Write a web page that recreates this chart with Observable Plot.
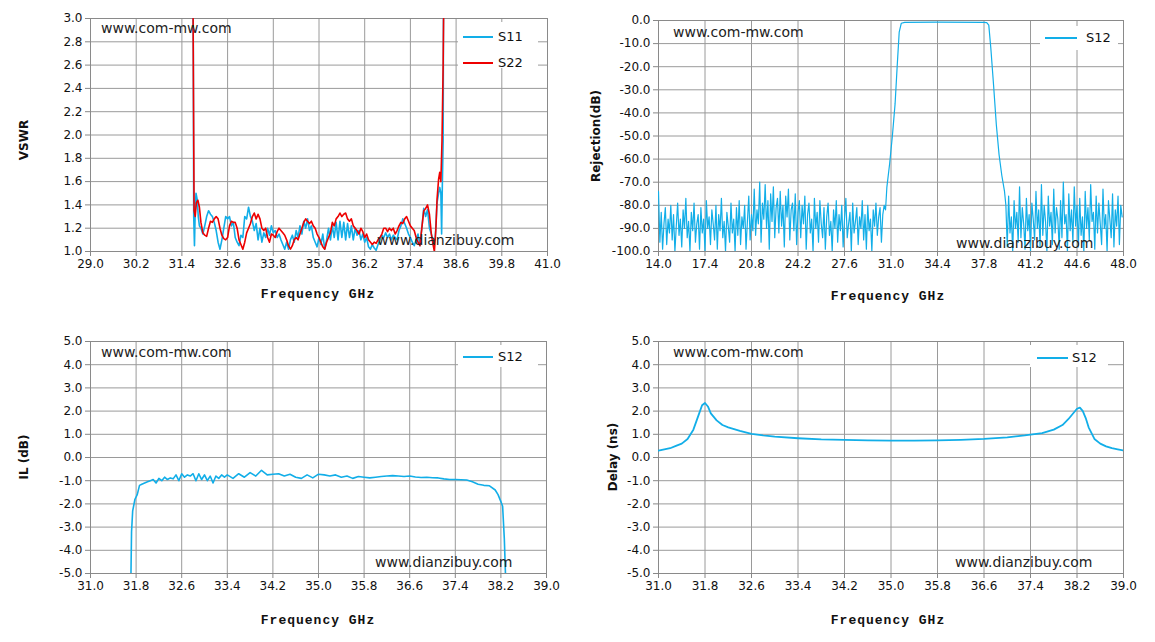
<!DOCTYPE html>
<html><head><meta charset="utf-8">
<script src="https://cdn.jsdelivr.net/npm/d3@7"></script>
<script src="https://cdn.jsdelivr.net/npm/@observablehq/plot@0.6"></script>
<style>
body{margin:0;background:#fff;width:1155px;height:642px;position:relative;overflow:hidden;font-family:"DejaVu Sans",sans-serif}
.p{position:absolute}
.wm{position:absolute;font-family:"DejaVu Sans",sans-serif;font-size:14px;color:#222;white-space:nowrap;line-height:16px}
.xt{position:absolute;font-family:"Liberation Mono",monospace;font-weight:bold;font-size:13px;letter-spacing:1px;color:#111;white-space:nowrap;transform:translateX(-50%)}
.yt{position:absolute;font-family:"DejaVu Sans",sans-serif;font-weight:bold;font-size:12px;color:#111;white-space:nowrap;transform:translate(-50%,-50%) rotate(-90deg)}
.lg{position:absolute;background:#fff}
.ll{position:absolute;height:2px}
.lt{position:absolute;font-family:"DejaVu Sans",sans-serif;font-size:13px;color:#111;line-height:14px}
</style></head><body>
<script>
const BLUE="#12aee8", RED="#ee0000";
// ---- VSWR: [GHz, VSWR] ----
const s22=[[31.69,3.3],[31.70,2.6],[31.72,1.35],[31.75,1.3],[31.78,1.42],[31.82,1.44],[31.86,1.38],[31.9,1.25],[31.95,1.16],[32.0,1.14],[32.05,1.13],[32.1,1.2],[32.15,1.26],[32.2,1.25],[32.25,1.28],[32.3,1.3],[32.35,1.28],[32.4,1.2],[32.45,1.14],[32.5,1.11],[32.55,1.1],[32.6,1.12],[32.65,1.22],[32.7,1.26],[32.75,1.25],[32.8,1.25],[32.85,1.2],[32.9,1.1],[32.95,1.06],[33.0,1.02],[33.05,1.08],[33.1,1.16],[33.15,1.2],[33.2,1.24],[33.25,1.3],[33.3,1.33],[33.35,1.28],[33.4,1.32],[33.45,1.28],[33.5,1.2],[33.55,1.18],[33.6,1.2],[33.65,1.12],[33.7,1.08],[33.75,1.15],[33.8,1.14],[33.85,1.12],[33.9,1.17],[33.95,1.2],[34.0,1.18],[34.05,1.16],[34.1,1.14],[34.15,1.1],[34.2,1.05],[34.25,1.02],[34.3,1.05],[34.35,1.1],[34.4,1.12],[34.45,1.1],[34.5,1.15],[34.55,1.2],[34.6,1.25],[34.65,1.28],[34.7,1.26],[34.75,1.24],[34.8,1.26],[34.85,1.22],[34.9,1.2],[34.95,1.15],[35.0,1.12],[35.05,1.08],[35.1,1.04],[35.15,1.02],[35.2,1.08],[35.25,1.12],[35.3,1.16],[35.35,1.25],[35.4,1.22],[35.45,1.28],[35.5,1.3],[35.55,1.33],[35.6,1.3],[35.65,1.32],[35.7,1.33],[35.75,1.28],[35.8,1.26],[35.85,1.28],[35.9,1.22],[35.95,1.2],[36.0,1.18],[36.05,1.15],[36.1,1.2],[36.15,1.17],[36.2,1.12],[36.25,1.15],[36.3,1.1],[36.4,1.06],[36.45,1.08],[36.5,1.07],[36.55,1.1],[36.6,1.12],[36.65,1.15],[36.7,1.2],[36.75,1.2],[36.8,1.17],[36.85,1.2],[36.9,1.18],[36.95,1.2],[37.0,1.15],[37.05,1.18],[37.1,1.22],[37.15,1.25],[37.2,1.24],[37.25,1.28],[37.3,1.3],[37.35,1.26],[37.4,1.22],[37.45,1.2],[37.5,1.18],[37.55,1.12],[37.6,1.08],[37.65,1.05],[37.7,1.2],[37.75,1.35],[37.8,1.37],[37.85,1.4],[37.9,1.32],[37.95,1.15],[38.0,1.05],[38.03,1.0],[38.07,1.2],[38.1,1.45],[38.14,1.62],[38.17,1.68],[38.2,1.6],[38.23,1.95],[38.26,2.6],[38.28,3.3]];
const s11=[[31.69,3.3],[31.70,2.7],[31.71,1.3],[31.73,1.05],[31.75,1.35],[31.77,1.5],[31.8,1.45],[31.83,1.3],[31.86,1.22],[31.9,1.2],[31.95,1.15],[32.0,1.22],[32.05,1.3],[32.1,1.35],[32.15,1.32],[32.2,1.3],[32.25,1.25],[32.3,1.18],[32.35,1.08],[32.4,1.02],[32.45,1.1],[32.5,1.2],[32.55,1.3],[32.6,1.28],[32.65,1.3],[32.7,1.22],[32.75,1.25],[32.8,1.12],[32.85,1.08],[32.9,1.05],[32.95,1.14],[33.0,1.12],[33.05,1.3],[33.1,1.28],[33.15,1.38],[33.2,1.3],[33.25,1.26],[33.3,1.18],[33.35,1.24],[33.4,1.1],[33.45,1.2],[33.5,1.08],[33.55,1.16],[33.6,1.12],[33.65,1.2],[33.7,1.14],[33.75,1.22],[33.8,1.16],[33.85,1.18],[33.9,1.12],[33.95,1.15],[34.0,1.1],[34.05,1.06],[34.1,1.02],[34.15,1.08],[34.2,1.02],[34.25,1.1],[34.3,1.14],[34.35,1.08],[34.4,1.18],[34.45,1.12],[34.5,1.22],[34.55,1.15],[34.6,1.26],[34.65,1.2],[34.7,1.28],[34.75,1.18],[34.8,1.22],[34.85,1.12],[34.9,1.08],[34.95,1.04],[35.0,1.12],[35.05,1.06],[35.1,1.15],[35.15,1.02],[35.2,1.1],[35.25,1.2],[35.3,1.1],[35.35,1.22],[35.4,1.12],[35.45,1.25],[35.5,1.1],[35.55,1.26],[35.6,1.12],[35.65,1.25],[35.7,1.1],[35.75,1.24],[35.8,1.12],[35.85,1.22],[35.9,1.1],[35.95,1.2],[36.0,1.14],[36.05,1.18],[36.1,1.1],[36.15,1.15],[36.2,1.08],[36.25,1.12],[36.3,1.04],[36.35,1.02],[36.4,1.06],[36.45,1.03],[36.5,1.01],[36.55,1.06],[36.6,1.1],[36.65,1.14],[36.7,1.12],[36.75,1.16],[36.8,1.12],[36.85,1.15],[36.9,1.1],[36.95,1.14],[37.0,1.12],[37.05,1.1],[37.1,1.18],[37.15,1.22],[37.2,1.28],[37.25,1.24],[37.3,1.2],[37.35,1.15],[37.4,1.12],[37.45,1.08],[37.5,1.05],[37.55,1.1],[37.6,1.15],[37.65,1.05],[37.7,1.2],[37.75,1.37],[37.8,1.3],[37.85,1.36],[37.9,1.2],[37.95,1.15],[38.0,1.08],[38.05,1.1],[38.1,1.42],[38.14,1.5],[38.17,1.55],[38.2,1.5],[38.22,1.15],[38.24,1.6],[38.26,1.95],[38.27,3.3]];
// ---- Rejection S12 ----
const rejNoiseStep=0.1;
const rejNoiseLStart=14.0;
const rejNoiseL=[-74,-96,-83,-99,-88,-81,-97,-86,-92,-80,
-95,-84,-100,-89,-79,-93,-86,-98,-82,-90,
-77,-94,-87,-100,-83,-91,-79,-96,-88,-84,
-99,-81,-92,-86,-100,-78,-90,-85,-97,-82,
-88,-95,-80,-99,-84,-91,-77,-94,-87,-100,
-83,-89,-96,-79,-92,-86,-100,-81,-93,-78,
-97,-85,-90,-80,-99,-87,-76,-95,-84,-91,
-73,-93,-82,-88,-70,-96,-79,-86,-71,-90,
-78,-99,-75,-87,-72,-94,-81,-77,-92,-74,
-89,-80,-98,-76,-85,-73,-95,-82,-79,-91,
-75,-97,-83,-78,-94,-80,-88,-76,-99,-84,
-79,-92,-86,-100,-77,-90,-83,-96,-78,-88,
-94,-81,-99,-85,-79,-93,-87,-100,-82,-90,
-78,-96,-84,-91,-80,-98,-86,-77,-94,-88,
-83,-100,-79,-92,-87,-81,-97,-85,-90,-78,
-95,-84,-99,-80,-91,-86,-100,-82,-89,-79,
-93,-85,-81,-96,-84,-80,-82];
const rejPass=[[30.7,-72],[30.9,-62],[31.1,-50],[31.3,-36],[31.45,-20],[31.6,-5],[31.75,-1.2],[32.0,-0.8],[34.4,-0.7],[37.8,-0.8],[38.0,-0.9],[38.15,-2],[38.3,-12],[38.5,-28],[38.7,-45],[38.9,-58],[39.1,-67],[39.3,-74]];
const rejNoiseRStart=39.4;
const rejNoiseR=[-80,-98,-76,-92,-85,-100,-78,-90,-83,-96,
-72,-94,-81,-88,-99,-77,-91,-84,-100,-79,
-86,-95,-74,-90,-82,-98,-71,-93,-80,-87,
-100,-76,-89,-83,-97,-73,-92,-81,-86,-99,
-78,-94,-70,-88,-84,-100,-75,-91,-82,-96,
-72,-89,-80,-98,-77,-93,-85,-100,-74,-90,
-81,-95,-71,-87,-83,-99,-76,-92,-79,-88,
-97,-73,-90,-84,-100,-78,-86,-94,-75,-98,
-82,-89,-76,-97,-80,-85];
// ---- IL S12 ----
const il=[[31.71,-5],[31.72,-3.2],[31.74,-2.3],[31.78,-1.8],[31.82,-1.6],[31.86,-1.2],[31.9,-1.15],[31.95,-1.1],[32.0,-1.05],[32.05,-1.0],[32.1,-0.95],[32.15,-1.1],[32.2,-0.9],[32.25,-1.0],[32.3,-0.85],[32.35,-0.95],[32.4,-0.88],[32.45,-0.92],[32.5,-0.75],[32.55,-1.0],[32.6,-0.7],[32.65,-0.85],[32.7,-0.75],[32.75,-0.8],[32.8,-0.7],[32.85,-1.0],[32.9,-0.7],[32.95,-0.95],[33.0,-0.75],[33.05,-1.0],[33.1,-0.8],[33.15,-1.1],[33.2,-0.8],[33.25,-0.9],[33.3,-0.75],[33.35,-0.85],[33.4,-0.75],[33.5,-0.9],[33.6,-0.7],[33.7,-0.85],[33.8,-0.65],[33.9,-0.8],[34.0,-0.55],[34.1,-0.75],[34.2,-0.72],[34.3,-0.7],[34.4,-0.8],[34.5,-0.72],[34.6,-0.85],[34.7,-0.9],[34.8,-0.75],[34.9,-0.88],[35.0,-0.72],[35.1,-0.75],[35.2,-0.8],[35.3,-0.75],[35.4,-0.85],[35.5,-0.8],[35.6,-0.9],[35.7,-0.82],[35.8,-0.85],[35.9,-0.88],[36.0,-0.85],[36.1,-0.82],[36.2,-0.8],[36.3,-0.78],[36.4,-0.8],[36.5,-0.82],[36.6,-0.8],[36.7,-0.84],[36.8,-0.86],[36.9,-0.85],[37.0,-0.87],[37.1,-0.88],[37.2,-0.92],[37.3,-0.95],[37.4,-0.95],[37.5,-0.96],[37.6,-0.97],[37.7,-1.05],[37.8,-1.15],[37.9,-1.2],[38.0,-1.22],[38.1,-1.4],[38.15,-1.6],[38.2,-1.9],[38.23,-2.1],[38.26,-3.5],[38.28,-5]];
// ---- Delay S12 ----
const delay=[[31.0,0.3],[31.1,0.35],[31.2,0.4],[31.3,0.5],[31.4,0.6],[31.5,0.8],[31.6,1.2],[31.7,1.9],[31.75,2.25],[31.8,2.35],[31.85,2.2],[31.9,1.9],[32.0,1.6],[32.1,1.4],[32.2,1.3],[32.4,1.15],[32.6,1.02],[32.8,0.95],[33.0,0.9],[33.4,0.83],[33.8,0.78],[34.2,0.76],[34.6,0.74],[35.0,0.73],[35.4,0.73],[35.8,0.74],[36.2,0.76],[36.6,0.8],[37.0,0.87],[37.3,0.95],[37.6,1.05],[37.8,1.2],[37.95,1.4],[38.05,1.65],[38.15,1.95],[38.2,2.1],[38.25,2.15],[38.3,2.0],[38.35,1.7],[38.4,1.3],[38.5,0.8],[38.6,0.6],[38.7,0.48],[38.8,0.4],[38.9,0.35],[39.0,0.3]];

const rows=P=>P.map(([f,v])=>({f,v}));
const noiseRows=(start,V)=>V.map((v,i)=>({f:+(start+i*rejNoiseStep).toFixed(2),v}));
const rejRows=[...noiseRows(rejNoiseLStart,rejNoiseL),...rows(rejPass),...noiseRows(rejNoiseRStart,rejNoiseR)];

const xTL=[29.0,30.2,31.4,32.6,33.8,35.0,36.2,37.4,38.6,39.8,41.0];
const yTL=[1.0,1.2,1.4,1.6,1.8,2.0,2.2,2.4,2.6,2.8,3.0];
const xTR=[14.0,17.4,20.8,24.2,27.6,31.0,34.4,37.8,41.2,44.6,48.0];
const yTR=[-100,-90,-80,-70,-60,-50,-40,-30,-20,-10,0];
const xB=[31.0,31.8,32.6,33.4,34.2,35.0,35.8,36.6,37.4,38.2,39.0];
const yB=[-5,-4,-3,-2,-1,0,1,2,3,4,5];

function panel(o){
  const f=d=>d.toFixed(1);
  const p=Plot.plot({
    width:577,height:321,marginLeft:o.ml,marginRight:o.mr,marginTop:o.mt,marginBottom:o.mb,
    style:{fontFamily:"DejaVu Sans",fontSize:"12px",color:"#111",background:"#fff"},
    x:{domain:o.xd,ticks:o.xt},y:{domain:o.yd,ticks:o.yt},
    marks:[
      Plot.gridX(o.xt,{stroke:"#9a9a9a",strokeOpacity:1}),
      Plot.gridY(o.yt,{stroke:"#9a9a9a",strokeOpacity:1}),
      Plot.frame({stroke:"#8a8a8a"}),
      Plot.axisX(o.xt,{tickFormat:f,tickSize:5,tickPadding:3,stroke:"#888",label:null,fontSize:12}),
      Plot.axisY(o.yt,{tickFormat:f,tickSize:5,tickPadding:3,stroke:"#888",label:null,fontSize:12}),
      ...o.series.map(s=>Plot.line(s.rows,{x:"f",y:"v",stroke:s.c,strokeWidth:s.w||1.6,clip:true}))
    ]});
  p.classList.add("p");p.style.left=o.left+"px";p.style.top=o.top+"px";
  document.body.appendChild(p);
}
panel({left:0,top:0,ml:90,mr:30,mt:18,mb:70,xd:[29,41],yd:[1,3],xt:xTL,yt:yTL,
  series:[{rows:rows(s11),c:BLUE},{rows:rows(s22),c:RED}]});
panel({left:577,top:0,ml:81,mr:31,mt:20,mb:70,xd:[14,48],yd:[-100,0],xt:xTR,yt:yTR,
  series:[{rows:rejRows,c:BLUE,w:1.2}]});
panel({left:0,top:321,ml:90,mr:31,mt:20,mb:69,xd:[31,39],yd:[-5,5],xt:xB,yt:yB,
  series:[{rows:rows(il),c:BLUE}]});
panel({left:577,top:321,ml:81,mr:31,mt:20,mb:69,xd:[31,39],yd:[-5,5],xt:xB,yt:yB,
  series:[{rows:rows(delay),c:BLUE,w:1.8}]});

function add(cls,txt,css){const d=document.createElement("div");d.className=cls;if(txt)d.textContent=txt;Object.assign(d.style,css);document.body.appendChild(d);}
[[101,20],[673,24],[101,344],[673,344]].forEach(([x,y])=>add("wm","www.com-mw.com",{left:x+"px",top:y+"px"}));
[[377,232],[956,235],[375,554],[955,554]].forEach(([x,y])=>add("wm","www.dianzibuy.com",{left:x+"px",top:y+"px"}));
[[318,287],[888,289],[318,613],[888,613]].forEach(([x,y])=>add("xt","Frequency GHz",{left:x+"px",top:y+"px"}));
add("yt","VSWR",{left:"24px",top:"140px"});
add("yt","Rejection(dB)",{left:"596px",top:"136px"});
add("yt","IL (dB)",{left:"24px",top:"457px"});
add("yt","Delay (ns)",{left:"613px",top:"457px"});
add("lg","",{left:"458px",top:"22px",width:"80px",height:"46px"});
add("ll","",{left:"463px",top:"36px",width:"30px",background:BLUE});
add("lt","S11",{left:"498px",top:"30px"});
add("ll","",{left:"463px",top:"62px",width:"30px",background:RED});
add("lt","S22",{left:"498px",top:"56px"});
add("lg","",{left:"1040px",top:"26px",width:"78px",height:"24px"});
add("ll","",{left:"1045px",top:"37px",width:"32px",background:BLUE});
add("lt","S12",{left:"1086px",top:"31px"});
add("lg","",{left:"458px",top:"345px",width:"80px",height:"22px"});
add("ll","",{left:"463px",top:"356px",width:"30px",background:BLUE});
add("lt","S12",{left:"498px",top:"350px"});
add("lg","",{left:"1030px",top:"345px",width:"78px",height:"22px"});
add("ll","",{left:"1037px",top:"357px",width:"31px",background:BLUE});
add("lt","S12",{left:"1072px",top:"351px"});
</script>
</body></html>
